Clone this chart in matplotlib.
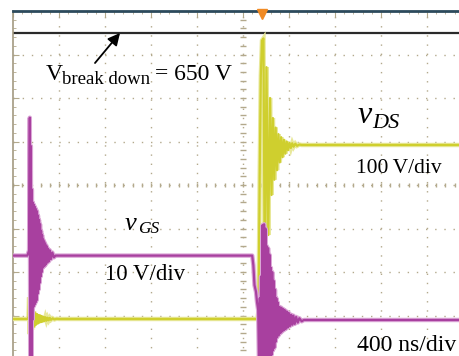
import numpy as np
import matplotlib.pyplot as plt

# scope settings: 400 ns/div, 10 div wide, 8 div high
t_per_div = 400
ds_scale, ds_zero = 100, 0.92     # V/div, ground in div
gs_scale, gs_zero = 10, 0.897
v_line = 657                      # breakdown marker line (V, on ch. vDS)
t_trig = 2165

# vGS (ns, V) - turn-on ringing and turn-off
gs_on_t = [0, 125, 140, 146, 150, 155, 160, 164, 168, 172, 177, 181, 186, 190, 195,
           199, 204, 208, 213, 217, 222, 226, 231, 235, 240, 244, 249, 253, 258, 262,
           267, 271, 276, 280, 286, 292, 298, 304, 312, 320, 330, 342, 356, 370]
gs_on_v = [14.8, 14.8, 16, 46.5, -12, 40, -11, 30, 0, 27, 3, 26.5, 3.5, 26, 4,
           25.5, 4.5, 25, 6, 24, 7, 23, 8.5, 22, 10, 20.5, 11, 19.5, 12, 18.5,
           12.3, 18, 12.5, 17.5, 12.8, 17, 13.2, 16.4, 13.5, 16, 14, 15.5, 14.4, 14.8]
gs_off_t = [2080, 2090, 2100, 2113, 2122, 2132, 2140, 2146, 2150, 2157,
            2162, 2170, 2176, 2183, 2188, 2195, 2200, 2206, 2212, 2218,
            2224, 2230, 2236, 2242, 2248, 2254, 2260, 2266, 2272, 2278,
            2284, 2290, 2296, 2302, 2310, 2318, 2326, 2334, 2342, 2350,
            2358, 2366, 2374, 2382, 2390, 2398, 2408, 2418, 2428, 2438,
            2450, 2462, 2476, 2490, 2510, 2530, 4000]
gs_off_v = [14.8, 12.6, 8.0, 6.5, 4.1, 2.3, -12, 5, -12, 10,
            -12, 21.8, -12, 22, -12, 21, -12, 17, -12, 16.5,
            -10, 15, -9, 12, -8, 11, -7, 9, -6.4, 7,
            -5, 5, -4, 4, -3.5, 3, -3, 2.8, -2.6, 2.5,
            -2.3, 2.2, -2.0, 1.9, -1.7, 1.6, -1.4, 1.2, -1.1, 1.0,
            -0.9, 0.7, -0.6, 0.4, -0.3, 0, 0]

# vDS (ns, V)
ds_on_t = [0, 125, 135, 140, 145, 150, 155, 160, 165, 170, 175, 182, 189, 196, 203,
           210, 217, 224, 231, 238, 245, 252, 259, 266, 273, 282, 291, 300, 310, 320,
           330, 345, 360, 380, 400]
ds_on_v = [0, 0, 5, 50, -35, 35, -30, 30, -25, 22, -20, 18, -15, 13, -12,
           11, -10, 9, -8, 8, -7, 6, -6, 5, -5, 4, -4, 3, -3, 2.5,
           -2, 1.5, -1, 0.5, 0]
ds_off_t = [2125, 2135, 2145, 2155, 2165, 2178, 2190, 2204, 2220, 2235,
            2248, 2260, 2272, 2284, 2296, 2308, 2320, 2332, 2344, 2356,
            2368, 2380, 2392, 2404, 2416, 2428, 2440, 2455, 2470, 2490,
            2510, 4000]
ds_off_v = [0, 20, 330, 560, 640, 645, 44, 579, 193, 508,
            285, 462, 320, 440, 342, 425, 360, 418, 372, 412,
            380, 408, 388, 405, 393, 404, 396, 403, 398, 401,
            400, 400]

t_ds = np.array(ds_on_t + ds_off_t)
y_ds = ds_zero + np.array(ds_on_v + ds_off_v) / ds_scale
t_gs = np.array(gs_on_t + gs_off_t)
y_gs = gs_zero + np.array(gs_on_v + gs_off_v) / gs_scale

W, H = 460, 356
fig = plt.figure(figsize=(W / 100, H / 100), dpi=100)
fig.patch.set_facecolor('white')
# screen is 13..473 px wide, 11..359 px high (cropped by the image)
ax = fig.add_axes([13 / W, -3 / H, 460 / W, 348 / H])
ax.set_xlim(0, 10 * t_per_div)
ax.set_ylim(0, 8)

gcol = '#b3a98c'
for k in range(1, 10):
    ax.axvline(k * t_per_div, color=gcol, lw=1, ls=(0, (1, 5.6)), zorder=1)
for k in range(1, 8):
    ax.axhline(k, color=gcol, lw=1, ls=(0, (1, 5.6)), zorder=1)
# centre cross tick marks
ax.vlines(np.arange(0, 4001, 80), 4 - 0.05, 4 + 0.05, color=gcol, lw=1, zorder=1)
ax.hlines(np.arange(0, 8.01, 0.2), 2000 - 22, 2000 + 22, color=gcol, lw=1, zorder=1)

ax.set_xticks(np.arange(0, 4001, 400))
ax.set_xticks(np.arange(0, 4001, 80), minor=True)
ax.set_yticks(np.arange(0, 9, 1))
ax.set_yticks(np.arange(0, 8.01, 0.2), minor=True)
ax.tick_params(which='both', direction='in', top=True, bottom=False, left=True,
               right=False, labelleft=False, labelbottom=False, color=gcol)
ax.tick_params(which='major', length=4)
ax.tick_params(which='minor', length=2.5)
for s in ['right', 'bottom']:
    ax.spines[s].set_visible(False)
ax.spines['left'].set_color('#a39a82')
ax.spines['left'].set_linewidth(1.2)
ax.spines['top'].set_color('#2c4a5c')
ax.spines['top'].set_linewidth(2)

# breakdown level line
ax.axhline(ds_zero + v_line / ds_scale, color='#2a2a2a', lw=1.6, zorder=2)

# traces
ax.plot(t_ds, y_ds, color='#e8e89a', lw=3.2, zorder=3, solid_joinstyle='miter')
ax.plot(t_ds, y_ds, color='#cfcf2e', lw=1.6, zorder=4)
ax.plot(t_gs, y_gs, color='#dba6d6', lw=3.2, zorder=5)
ax.plot(t_gs, y_gs, color='#a8409f', lw=1.6, zorder=6)

ax.plot([t_trig], [7.92], marker='v', color='#f08a24', ms=7, clip_on=False, zorder=7)

ser = 'Liberation Serif'


def px_text(x, y, s, size, style='normal'):
    fig.text(x / W, 1 - y / H, s, fontsize=size, family=ser, style=style,
             va='baseline', ha='left')


px_text(46, 80, 'V', 17)
px_text(62, 84, 'break down', 13.5)
px_text(155, 80, '= 650 V', 17)
ax.annotate('', xy=(120 / W, 1 - 33 / H), xycoords='figure fraction',
            xytext=(95 / W, 1 - 63 / H), textcoords='figure fraction',
            arrowprops=dict(arrowstyle='-|>', color='black', lw=1.3,
                            mutation_scale=18, shrinkA=0, shrinkB=0))

px_text(358, 123, 'v', 23, 'italic')
px_text(372, 128, 'DS', 16, 'italic')
px_text(356, 173, '100\u2009V/div', 15.5)

px_text(125, 230, 'v', 19, 'italic')
px_text(138, 233, 'GS', 12.5, 'italic')
px_text(105, 280, '10 V/div', 16.5)

px_text(357, 351, '400 ns/div', 17)

fig.savefig('out.png', dpi=100)
